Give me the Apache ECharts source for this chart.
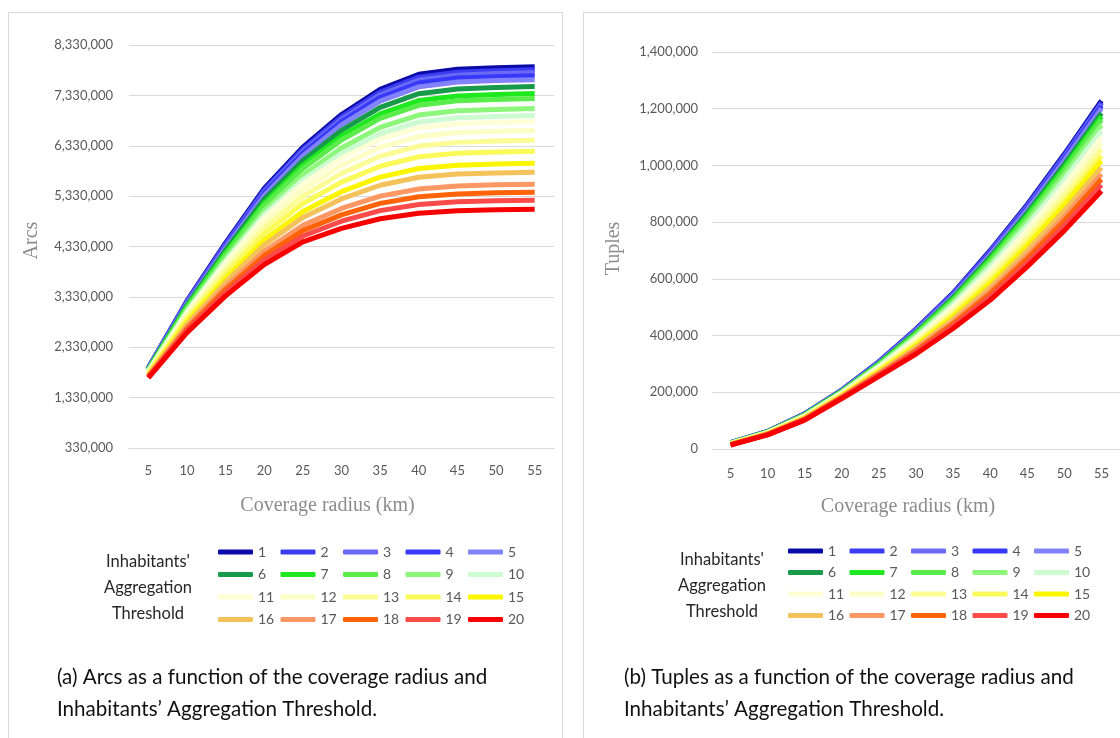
<!DOCTYPE html>
<html>
<head>
<meta charset="utf-8">
<script src="https://cdn.jsdelivr.net/npm/echarts@6/dist/echarts.min.js"></script>
<style>
  html, body { margin: 0; padding: 0; background: #fff; }
  #chart { width: 1120px; height: 738px; }
</style>
</head>
<body>
<div id="chart"></div>
<script>
  // coverage radius (km)
  let radius = ['5', '10', '15', '20', '25', '30', '35', '40', '45', '50', '55'];
  let thresholds = ['1', '2', '3', '4', '5', '6', '7', '8', '9', '10', '11', '12', '13', '14', '15', '16', '17', '18', '19', '20'];
  let colors = ['#0a0aa8', '#3c3cf2', '#6a6af5', '#3838f8', '#8282fa', '#179a4a', '#1ee81e', '#5aec4a', '#8cf77a', '#cdfcd3',
    '#fefed7', '#fdfdc6', '#fcfc96', '#fafa58', '#fbf500', '#f4c25a', '#fd9763', '#fe6308', '#fb4a4a', '#f60000'];

  // (a) arcs per threshold
  let arcs1 = [1920000, 3250000, 4400000, 5480000, 6300000, 6950000, 7450000, 7750000, 7850000, 7880000, 7900000];
  let arcs2 = [1916000, 3237000, 4378000, 5448000, 6261000, 6903000, 7396000, 7692000, 7791000, 7821000, 7841000];
  let arcs3 = [1912000, 3224000, 4356000, 5417000, 6221000, 6855000, 7342000, 7634000, 7732000, 7762000, 7781000];
  let arcs4 = [1907000, 3210000, 4334000, 5385000, 6182000, 6808000, 7288000, 7576000, 7673000, 7702000, 7722000];
  let arcs5 = [1902000, 3193000, 4304000, 5343000, 6129000, 6744000, 7216000, 7499000, 7594000, 7623000, 7642000];
  let arcs6 = [1892000, 3162000, 4253000, 5269000, 6037000, 6634000, 7090000, 7364000, 7457000, 7485000, 7504000];
  let arcs7 = [1882000, 3131000, 4202000, 5195000, 5945000, 6523000, 6964000, 7228000, 7319000, 7347000, 7365000];
  let arcs8 = [1875000, 3109000, 4165000, 5142000, 5879000, 6444000, 6874000, 7132000, 7221000, 7248000, 7266000];
  let arcs9 = [1861000, 3065000, 4091000, 5036000, 5747000, 6286000, 6694000, 6939000, 7024000, 7051000, 7068000];
  let arcs10 = [1851000, 3034000, 4040000, 4962000, 5655000, 6175000, 6568000, 6803000, 6886000, 6913000, 6929000];
  let arcs11 = [1843000, 3007000, 3996000, 4899000, 5576000, 6080000, 6461000, 6687000, 6768000, 6794000, 6810000];
  let arcs12 = [1830000, 2968000, 3930000, 4804000, 5458000, 5938000, 6299000, 6514000, 6591000, 6617000, 6632000];
  let arcs13 = [1817000, 2924000, 3857000, 4699000, 5328000, 5782000, 6121000, 6323000, 6397000, 6422000, 6437000];
  let arcs14 = [1801000, 2876000, 3776000, 4583000, 5183000, 5608000, 5923000, 6111000, 6181000, 6205000, 6219000];
  let arcs15 = [1784000, 2823000, 3688000, 4456000, 5025000, 5418000, 5708000, 5879000, 5945000, 5968000, 5981000];
  let arcs16 = [1772000, 2783000, 3622000, 4361000, 4907000, 5275000, 5546000, 5705000, 5768000, 5790000, 5803000];
  let arcs17 = [1755000, 2730000, 3534000, 4234000, 4749000, 5086000, 5330000, 5473000, 5532000, 5554000, 5565000];
  let arcs18 = [1744000, 2695000, 3475000, 4150000, 4644000, 4959000, 5186000, 5318000, 5374000, 5396000, 5407000];
  let arcs19 = [1733000, 2660000, 3416000, 4065000, 4538000, 4832000, 5042000, 5164000, 5217000, 5238000, 5249000];
  let arcs20 = [1720000, 2620000, 3350000, 3970000, 4420000, 4690000, 4880000, 4990000, 5040000, 5060000, 5070000];

  // (b) tuples per threshold
  let tuples1 = [22000, 62000, 124000, 208000, 308000, 423000, 550000, 700000, 862000, 1040000, 1228000];
  let tuples2 = [21850, 61770, 123580, 207430, 307010, 421330, 547630, 696680, 857840, 1034870, 1221960];
  let tuples3 = [21700, 61560, 123190, 206890, 306080, 419740, 545380, 693530, 853900, 1030010, 1216230];
  let tuples4 = [21550, 61330, 122770, 206320, 305090, 418070, 543000, 690200, 849740, 1024880, 1210190];
  let tuples5 = [21330, 60990, 122150, 205480, 303630, 415610, 539500, 685300, 843600, 1017320, 1201290];
  let tuples6 = [20900, 60360, 120990, 203890, 300880, 410940, 532880, 676030, 832000, 1003010, 1184430];
  let tuples7 = [20610, 59910, 120170, 202780, 298950, 407690, 528250, 669550, 823890, 993020, 1172670];
  let tuples8 = [20310, 59470, 119360, 201670, 297030, 404430, 523630, 663080, 815790, 983030, 1160900];
  let tuples9 = [19840, 58760, 118060, 199900, 293960, 399240, 516250, 652750, 802870, 967100, 1142140];
  let tuples10 = [19340, 58000, 116670, 198010, 290680, 393700, 508380, 641730, 789070, 950090, 1122110];
  let tuples11 = [18740, 57120, 115050, 195790, 286840, 387180, 499130, 628780, 772870, 930110, 1098570];
  let tuples12 = [18240, 56360, 113660, 193900, 283560, 381640, 491250, 617750, 759070, 913100, 1078540];
  let tuples13 = [17700, 55560, 112190, 191890, 280080, 375740, 482880, 606030, 744400, 895010, 1057230];
  let tuples14 = [17110, 54670, 110560, 189670, 276230, 369230, 473630, 593080, 728190, 875030, 1033700];
  let tuples15 = [16660, 54000, 109330, 187990, 273320, 364300, 466630, 583280, 715930, 859910, 1015890];
  let tuples16 = [16080, 53120, 107720, 185800, 269520, 357880, 457500, 570500, 699940, 840200, 992680];
  let tuples17 = [15490, 52230, 106090, 183580, 265670, 351370, 448250, 557550, 683730, 820220, 969150];
  let tuples18 = [15040, 51560, 104860, 181900, 262760, 346440, 441250, 547750, 671470, 805100, 951340];
  let tuples19 = [14540, 50800, 103470, 180010, 259480, 340900, 433380, 536730, 657670, 788090, 931310];
  let tuples20 = [14000, 50000, 102000, 178000, 256000, 335000, 425000, 525000, 643000, 770000, 910000];

  let arcsList = [arcs1, arcs2, arcs3, arcs4, arcs5, arcs6, arcs7, arcs8, arcs9, arcs10,
    arcs11, arcs12, arcs13, arcs14, arcs15, arcs16, arcs17, arcs18, arcs19, arcs20];
  let tuplesList = [tuples1, tuples2, tuples3, tuples4, tuples5, tuples6, tuples7, tuples8, tuples9, tuples10,
    tuples11, tuples12, tuples13, tuples14, tuples15, tuples16, tuples17, tuples18, tuples19, tuples20];

  let labelFont = 'Lato';
  let labelColor = '#595959';
  let gridColor = '#d9d9d9';

  let series = [];
  for (let i = 0; i < thresholds.length; i++) {
    series.push({
      name: thresholds[i],
      type: 'line',
      xAxisIndex: 0,
      yAxisIndex: 0,
      data: arcsList[i],
      symbol: 'none',
      smooth: false,
      color: colors[i],
      lineStyle: { width: 5, color: colors[i] }
    });
  }
  for (let i = 0; i < thresholds.length; i++) {
    series.push({
      name: thresholds[i],
      type: 'line',
      xAxisIndex: 1,
      yAxisIndex: 1,
      data: tuplesList[i],
      symbol: 'none',
      smooth: false,
      color: colors[i],
      lineStyle: { width: 5, color: colors[i] }
    });
  }

  function nameStyle (padding) {
    return { fontFamily: 'Liberation Serif', fontSize: 20, color: '#8c8c8c', padding: padding };
  }

  function xAxisFor (gridIndex, margin, padding) {
    return {
      gridIndex: gridIndex,
      type: 'category',
      boundaryGap: true,
      data: radius,
      name: 'Coverage radius (km)',
      nameLocation: 'middle',
      nameGap: 48,
      nameTextStyle: nameStyle(padding),
      axisTick: { show: false },
      axisLine: { lineStyle: { color: gridColor, width: 1 } },
      axisLabel: { fontFamily: labelFont, fontSize: 13, color: labelColor, margin: margin }
    };
  }

  function legendFor (left, top, gap) {
    return {
      data: thresholds,
      left: left,
      top: top,
      width: 320,
      padding: 0,
      orient: 'horizontal',
      icon: 'roundRect',
      itemWidth: 35,
      itemHeight: 5,
      itemGap: gap,
      selectedMode: false,
      textStyle: { fontFamily: labelFont, fontSize: 14, color: labelColor, width: 20, lineHeight: 20 }
    };
  }

  function titleText (x, y) {
    return {
      type: 'text', x: x, y: y, silent: true,
      style: {
        text: "Inhabitants'\nAggregation\nThreshold", fontFamily: labelFont, fontSize: 16.5, lineHeight: 26,
        fill: '#262626', align: 'center', verticalAlign: 'top'
      }
    };
  }

  let myChart = echarts.init(document.getElementById('chart'));
  myChart.setOption({
    animation: false,
    backgroundColor: '#fff',
    grid: [
      { left: 129, top: 45, width: 425, height: 403 },
      { left: 712, top: 52, width: 408, height: 397 }
    ],
    xAxis: [xAxisFor(0, 16, [0, 28, 0, 0]), xAxisFor(1, 18, [0, 16, 0, 0])],
    yAxis: [{
      gridIndex: 0,
      type: 'value',
      min: 330000,
      max: 8330000,
      interval: 1000000,
      name: 'Arcs',
      nameLocation: 'middle',
      nameGap: 87,
      nameTextStyle: nameStyle([0, 0, 0, 12]),
      axisLine: { show: false },
      axisTick: { show: false },
      splitLine: { lineStyle: { color: gridColor, width: 1 } },
      axisLabel: {
        fontFamily: labelFont, fontSize: 13, color: labelColor, margin: 16,
        formatter: function (v) { return v.toLocaleString('en-US'); }
      }
    }, {
      gridIndex: 1,
      type: 'value',
      min: 0,
      max: 1400000,
      interval: 200000,
      name: 'Tuples',
      nameLocation: 'middle',
      nameGap: 88,
      nameTextStyle: nameStyle([0, 0, 0, 4]),
      axisLine: { show: false },
      axisTick: { show: false },
      splitLine: { lineStyle: { color: gridColor, width: 1 } },
      axisLabel: {
        fontFamily: labelFont, fontSize: 13, color: labelColor, margin: 14,
        formatter: function (v) { return v.toLocaleString('en-US'); }
      }
    }],
    legend: [legendFor(218, 542, 2.5), legendFor(788, 541, 1.5)],
    graphic: [
      { type: 'rect', silent: true, shape: { x: 8.5, y: 12.5, width: 554, height: 760 },
        style: { fill: 'none', stroke: gridColor, lineWidth: 1 } },
      { type: 'rect', silent: true, shape: { x: 583.5, y: 12.5, width: 600, height: 760 },
        style: { fill: 'none', stroke: gridColor, lineWidth: 1 } },
      titleText(148, 549),
      titleText(722, 547),
      { type: 'text', left: 57, top: 661, silent: true, style: {
        text: '(a) Arcs as a function of the coverage radius and\nInhabitants\u2019 Aggregation Threshold.',
        fontFamily: labelFont, fontSize: 20.6, lineHeight: 32, fill: '#111' } },
      { type: 'text', left: 624, top: 661, silent: true, style: {
        text: '(b) Tuples as a function of the coverage radius and\nInhabitants\u2019 Aggregation Threshold.',
        fontFamily: labelFont, fontSize: 20.6, lineHeight: 32, fill: '#111' } }
    ],
    series: series
  });
</script>
</body>
</html>
